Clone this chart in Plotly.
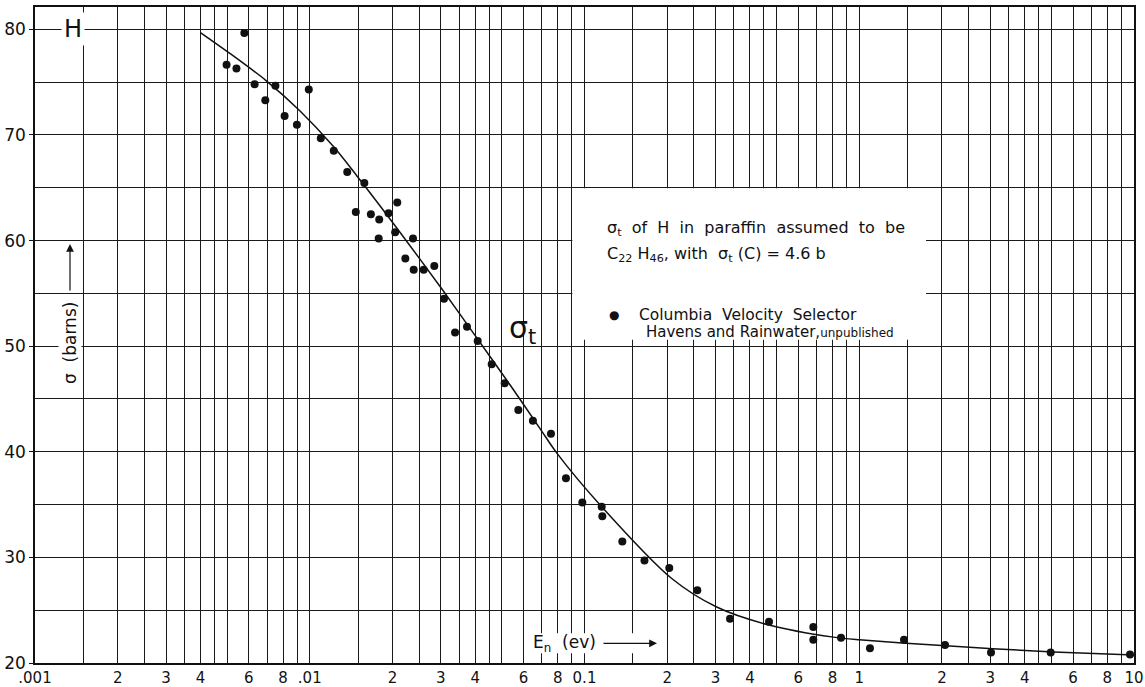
import plotly.graph_objects as go

# ---- data ----
energy_ev = [0.00498, 0.00541, 0.00578, 0.0063, 0.00689, 0.0075, 0.0081, 0.00898, 0.00992,
             0.01097, 0.01223, 0.01369, 0.01471, 0.0158, 0.01669, 0.0179, 0.01782, 0.01935,
             0.02046, 0.02082, 0.02228, 0.02376, 0.0239, 0.02598, 0.0284, 0.0308, 0.0338,
             0.03735, 0.04086, 0.04595, 0.05123, 0.05743, 0.0649, 0.0755, 0.0856, 0.0982,
             0.1155, 0.1161, 0.1373, 0.1653, 0.2035, 0.2574, 0.3385, 0.4694, 0.6805, 0.6805,
             0.8583, 1.094, 1.455, 2.052, 3.017, 4.975, 9.67]
sigma_barns = [76.65, 76.3, 79.66, 74.8, 73.3, 74.66, 71.8, 70.97, 74.3,
               69.7, 68.5, 66.5, 62.7, 65.45, 62.5, 62.0, 60.2, 62.6,
               60.8, 63.6, 58.3, 60.2, 57.25, 57.25, 57.6, 54.5, 51.3,
               51.85, 50.5, 48.3, 46.5, 43.95, 42.95, 41.7, 37.5, 35.2,
               34.8, 33.9, 31.5, 29.7, 29.0, 26.9, 24.2, 23.9, 23.4, 22.2,
               22.4, 21.4, 22.2, 21.7, 21.0, 21.0, 20.8]

curve_e = [0.004, 0.0052, 0.0069, 0.0092, 0.0122, 0.0155, 0.021, 0.0305, 0.04, 0.0537,
           0.0689, 0.0792, 0.1155, 0.2077, 0.3027, 0.469, 0.805, 1.0, 2.0, 3.06, 5.1, 10.0]
curve_s = [79.7, 77.6, 75.2, 72.3, 68.9, 65.5, 61.0, 55.3, 51.0, 46.3,
           42.2, 39.9, 34.8, 28.0, 25.3, 23.6, 22.45, 22.2, 21.65, 21.35, 21.05, 20.75]

decades = [0.001, 0.01, 0.1, 1]
decade_labels = [".001", ".01", "0.1", "1"]
label_mults = [1, 2, 3, 4, 6, 8]
label_mult_text = ["", "2", "3", "4", "6", "8"]
grid_only_mults = [1.5, 2.5, 3.5, 4.5, 5, 7, 9]

y_major = [20, 30, 40, 50, 60, 70, 80]
y_minor = [25, 35, 45, 55, 65, 75]

# build x tick arrays
x_tickvals, x_ticktext, x_minorvals = [], [], []
for d, dl in zip(decades, decade_labels):
    for m, t in zip(label_mults, label_mult_text):
        x_tickvals.append(d * m)
        x_ticktext.append(dl if m == 1 else t)
    for m in grid_only_mults:
        x_minorvals.append(d * m)
x_tickvals.append(10)
x_ticktext.append("10")

FONT = "DejaVu Sans"
INK = "#111111"
GRID = "#1a1a1a"

fig = go.Figure()

fig.add_trace(go.Scatter(
    x=curve_e, y=curve_s, mode="lines",
    line=dict(color=INK, width=1.5, shape="spline", smoothing=0.8),
    showlegend=False, hoverinfo="skip"))

fig.add_trace(go.Scatter(
    x=energy_ev, y=sigma_barns, mode="markers",
    marker=dict(color=INK, size=8),
    showlegend=False))

W, H = 1145, 687
L, R, T, B = 35, 11, 7, 24

fig.update_layout(
    width=W, height=H,
    margin=dict(l=L, r=R, t=T, b=B, pad=0),
    paper_bgcolor="white", plot_bgcolor="white",
    font=dict(family=FONT, color=INK),
    xaxis=dict(
        type="log", range=[-3, 1],
        tickmode="array", tickvals=x_tickvals, ticktext=x_ticktext,
        showgrid=True, gridcolor=GRID, gridwidth=1,
        minor=dict(tickmode="array", tickvals=x_minorvals, showgrid=True,
                   gridcolor=GRID, gridwidth=1, ticks=""),
        showline=True, linecolor=INK, linewidth=1.5, mirror=True,
        ticks="", tickfont=dict(size=15, family=FONT),
        zeroline=False, automargin=False,
    ),
    yaxis=dict(
        range=[20, 82.12],
        tickmode="array", tickvals=y_major,
        showgrid=True, gridcolor=GRID, gridwidth=1,
        minor=dict(tickmode="array", tickvals=y_minor, showgrid=True,
                   gridcolor=GRID, gridwidth=1, ticks=""),
        showline=True, linecolor=INK, linewidth=1.5, mirror=True,
        ticks="outside", ticklen=4, tickcolor=INK,
        tickfont=dict(size=17, family=FONT),
        zeroline=False, automargin=False,
    ),
)

def lx(px):
    return -3 + (px - 35) / 274.75

def ly(py):
    return 20 + (662.7 - py) / 10.55

# white legend box covering the grid
fig.add_shape(type="rect", xref="x", yref="y",
              x0=0.0903, x1=1.75, y0=50.6, y1=64.95,
              fillcolor="white", line=dict(width=0), layer="above")
# white patch behind the x-axis label and its arrow
fig.add_shape(type="rect", xref="x", yref="y",
              x0=10 ** lx(527), x1=10 ** lx(660), y0=ly(653), y1=ly(633),
              fillcolor="white", line=dict(width=0), layer="above")

annos = [
    dict(x=lx(73), y=ly(29), text="H", font=dict(size=24), bgcolor="white", borderpad=2),
    dict(x=lx(70), y=ly(343), text="σ  (barns)", textangle=-90, font=dict(size=17),
         bgcolor="white"),
    dict(x=lx(564), y=ly(643), text="E<sub>n</sub>  (ev)", font=dict(size=17)),
    dict(x=lx(522), y=ly(330), text="σ<sub>t</sub>", font=dict(size=30)),
    dict(x=lx(605), y=ly(229), text="σ<sub>t</sub>  of  H  in  paraffin  assumed  to  be",
         xanchor="left", font=dict(size=16)),
    dict(x=lx(605), y=ly(255), text="C<sub>22</sub> H<sub>46</sub>, with  σ<sub>t</sub> (C) = 4.6 b",
         xanchor="left", font=dict(size=16)),
    dict(x=lx(614), y=ly(315), text="●", font=dict(size=12)),
    dict(x=lx(637), y=ly(315), text="Columbia  Velocity  Selector",
         xanchor="left", font=dict(size=15.5)),
    dict(x=lx(644), y=ly(332),
         text="Havens and Rainwater,<span style='font-size:12px'>unpublished</span>",
         xanchor="left", font=dict(size=15)),
]
for a in annos:
    a.update(xref="x", yref="y", showarrow=False)
    fig.add_annotation(**a)

# arrows attached to the axis labels
fig.add_annotation(x=lx(70), y=ly(244), xref="x", yref="y", text="",
                   showarrow=True, ax=0, ay=48, arrowhead=2, arrowsize=1.3,
                   arrowwidth=1.2, arrowcolor=INK)
fig.add_annotation(x=lx(657), y=ly(643), xref="x", yref="y", text="",
                   showarrow=True, ax=-55, ay=0, arrowhead=2, arrowsize=1.3,
                   arrowwidth=1.2, arrowcolor=INK)

fig.write_html("out.html")
